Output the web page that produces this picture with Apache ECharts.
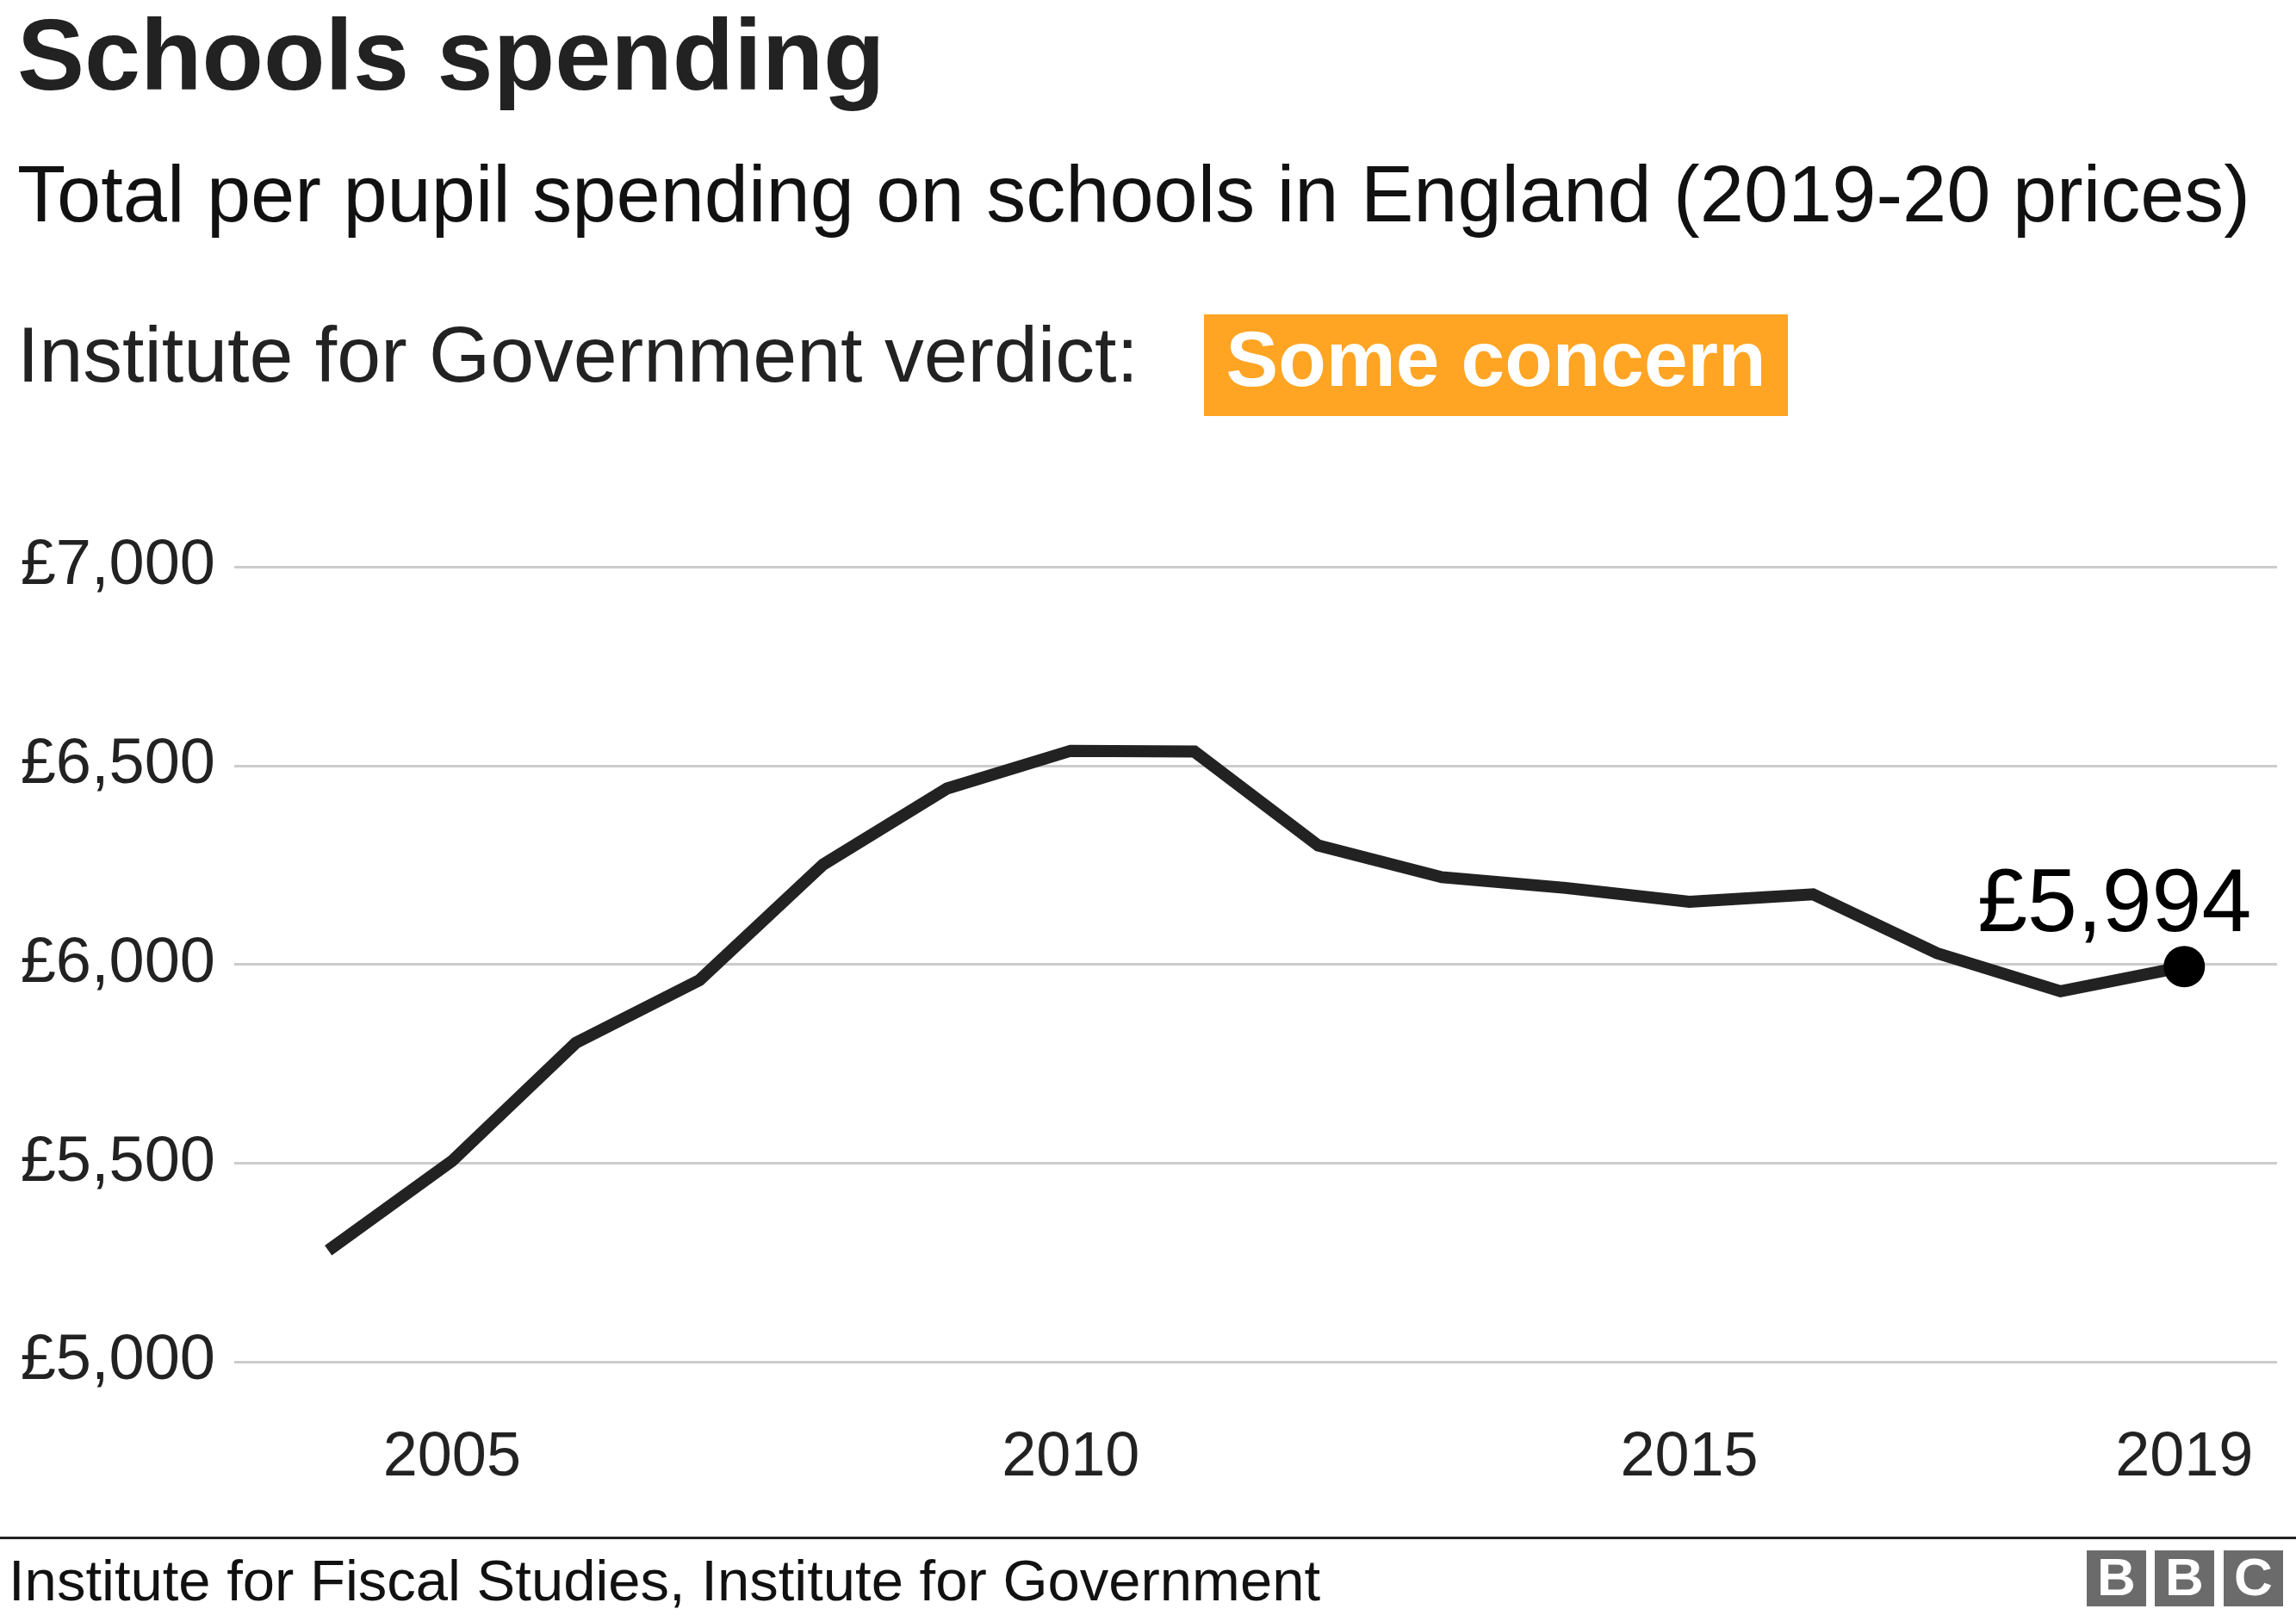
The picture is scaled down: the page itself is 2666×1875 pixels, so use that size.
<!DOCTYPE html>
<html>
<head>
<meta charset="utf-8">
<script src="https://cdn.jsdelivr.net/npm/echarts@6/dist/echarts.min.js"></script>
<style>
  html, body { margin: 0; padding: 0; background: #ffffff; }
  #chart { width: 2666px; height: 1875px; }
</style>
</head>
<body>
<div id="chart"></div>
<script>
// ---- data ----
var years = [2004, 2005, 2006, 2007, 2008, 2009, 2010, 2011, 2012, 2013, 2014, 2015, 2016, 2017, 2018, 2019];
var spending = [5280, 5505, 5802, 5960, 6251, 6442, 6537, 6535, 6299, 6219, 6192, 6157, 6176, 6028, 5932, 5994];
var yTicks = [5000, 5500, 6000, 6500, 7000];
var xTicks = [2005, 2010, 2015, 2019];

var titleText = 'Schools spending';
var subtitleText = 'Total per pupil spending on schools in England (2019-20 prices)';
var verdictLabel = 'Institute for Government verdict:';
var verdictText = 'Some concern';
var sourceText = 'Institute for Fiscal Studies, Institute for Government';

// ---- helpers ----
var FONT = "'Liberation Sans', Arial, Helvetica, sans-serif";
function fmtPounds(v) {
  var s = String(Math.round(v)).replace(/\B(?=(\d{3})+(?!\d))/g, ',');
  return '\u00a3' + s;
}

var lineData = years.map(function (y, i) { return [y, spending[i]]; });
var last = lineData[lineData.length - 1];

var chart = echarts.init(document.getElementById('chart'), null, { renderer: 'canvas' });

function bbcBox(x, letter) {
  return {
    type: 'group',
    children: [
      { type: 'rect', shape: { x: x, y: 1800, width: 69, height: 65 }, style: { fill: '#6b6b6b' } },
      { type: 'text', style: { text: letter, x: x + 34.5, y: 1835, textAlign: 'center', textVerticalAlign: 'middle',
        font: 'bold 62px ' + FONT, fill: '#ffffff' } }
    ]
  };
}

var option = {
  animation: false,
  backgroundColor: '#ffffff',
  grid: { left: 272, right: 22, top: 658, bottom: 294, containLabel: false },
  xAxis: {
    type: 'value',
    min: 2003.24,
    max: 2019.75,
    axisLine: { show: false },
    axisTick: { show: false },
    splitLine: { show: false },
    axisLabel: {
      customValues: xTicks,
      formatter: function (v) { return String(v); },
      fontFamily: FONT,
      fontSize: 72,
      color: '#222222',
      margin: 76
    }
  },
  yAxis: {
    type: 'value',
    min: yTicks[0],
    max: yTicks[yTicks.length - 1],
    interval: yTicks[1] - yTicks[0],
    axisLine: { show: false },
    axisTick: { show: false },
    splitLine: { show: true, lineStyle: { color: '#cccccc', width: 3 } },
    axisLabel: {
      formatter: fmtPounds,
      fontFamily: FONT,
      fontSize: 74,
      color: '#222222',
      margin: 22
    }
  },
  series: [
    {
      type: 'line',
      data: lineData,
      showSymbol: false,
      smooth: false,
      lineStyle: { color: '#222222', width: 14, join: 'miter', cap: 'butt' },
      z: 2
    },
    {
      type: 'scatter',
      data: [last],
      symbol: 'circle',
      symbolSize: 48,
      itemStyle: { color: '#000000', opacity: 1 },
      emphasis: { disabled: true },
      z: 3,
      label: {
        show: true,
        position: 'top',
        distance: 5,
        offset: [-81, 11],
        formatter: function (p) { return fmtPounds(p.value[1]); },
        fontFamily: FONT,
        fontSize: 104,
        color: '#000000',
        opacity: 1
      }
    }
  ],
  graphic: [
    { type: 'text', style: { text: titleText, x: 20, y: 72, textVerticalAlign: 'middle',
      font: 'bold 117px ' + FONT, fill: '#222222' } },
    { type: 'text', style: { text: subtitleText, x: 20, y: 232, textVerticalAlign: 'middle',
      font: '92px ' + FONT, fill: '#111111' } },
    { type: 'text', style: { text: verdictLabel, x: 20, y: 418, textVerticalAlign: 'middle',
      font: '91.5px ' + FONT, fill: '#222222' } },
    { type: 'rect', shape: { x: 1398, y: 365, width: 678, height: 118 }, style: { fill: '#ffa423' } },
    { type: 'text', style: { text: verdictText, x: 1737, y: 423, textAlign: 'center', textVerticalAlign: 'middle',
      font: 'bold 91px ' + FONT, fill: '#ffffff' } },
    { type: 'rect', shape: { x: 0, y: 1784, width: 2666, height: 3 }, style: { fill: '#222222' } },
    { type: 'text', style: { text: sourceText, x: 10, y: 1840, textVerticalAlign: 'middle',
      font: '67px ' + FONT, fill: '#111111' } },
    bbcBox(2423, 'B'),
    bbcBox(2502, 'B'),
    bbcBox(2582, 'C')
  ]
};

chart.setOption(option);
</script>
</body>
</html>
